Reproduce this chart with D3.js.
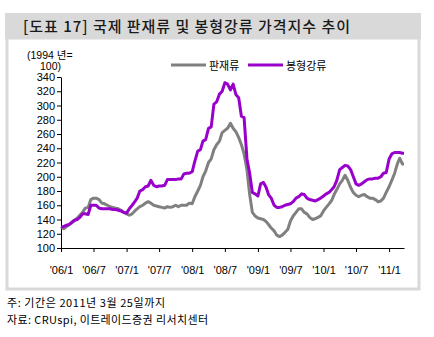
<!DOCTYPE html>
<html><head><meta charset="utf-8">
<script src="https://cdn.jsdelivr.net/npm/d3@7"></script>
<style>
html,body{margin:0;padding:0;background:#fff;}
svg{display:block;}
</style></head>
<body>
<svg id="chart" width="434" height="337"></svg>
<script>
// Half-month grid starting Jan 2006 (index 0 = 2006-01-01, 1 = 2006-01-16, ...)
const seriesNames = ["판재류", "봉형강류"];
const flatValues = [ // 판재류
130,127,130,133,135,138,142,146,150,156,157,168,170,170,168,163,162,160,158,157,156,155,153,150,
148,146,148,152,155,158,160,163,165,163,160,159,158,157,156,158,157,158,160,158,160,160,160,163,
162,172,180,188,200,208,220,225,238,245,250,262,265,268,275,268,263,255,245,232,210,175,150,145,
142,141,140,137,133,128,124,118,116,118,122,126,138,145,150,155,155,150,148,143,140,141,143,145,
152,157,162,167,175,182,190,195,202,195,185,178,174,172,174,175,172,170,170,168,165,166,170,178,
186,195,205,218,226,218,218];
const longValues = [ // 봉형강류
130,130,132,133,136,139,140,143,148,148,147,160,160,160,156,155,155,155,155,154,154,153,152,150,
149,155,160,165,170,180,182,186,187,195,188,186,187,187,188,196,196,196,196,197,197,204,205,205,
207,222,236,238,250,252,268,270,302,305,316,320,332,330,322,330,315,311,285,283,225,205,178,176,
173,190,192,185,175,170,160,157,157,158,160,161,162,165,170,172,176,175,170,168,167,166,168,170,
173,176,178,182,186,195,210,213,216,215,210,200,190,188,190,193,196,197,197,198,198,200,205,206,
225,232,234,234,234,233,233];
const tickLabels = ["'06/1","'06/7","'07/1","'07/7","'08/1","'08/7","'09/1","'09/7","'10/1","'10/7","'11/1"];
const yTicks = [100,120,140,160,180,200,220,240,260,280,300,320,340];

const startDate = new Date(2006,0,1), endDate = new Date(2011,2,25);
function gridDate(i){ const m = Math.floor(i/2); return new Date(2006, m, i%2 ? 16 : 1); }
const dates = flatValues.map((v,i)=> i===flatValues.length-1 ? endDate : gridDate(i));
const tickDates = tickLabels.map((t,i)=> new Date(2006, i*6, 1));

const svg = d3.select("#chart");
const FONT = "'Liberation Sans', Arial, 'Noto Sans CJK KR', sans-serif";
const KFONT = "'Noto Sans CJK KR', 'Liberation Sans', sans-serif";

// title band
svg.append("rect").attr("x",5).attr("y",13).attr("width",416).attr("height",26).attr("fill","#d9d9d9");
svg.append("text").attr("x",23).attr("y",32).attr("font-family",KFONT).attr("font-size",15)
  .attr("font-weight",500).attr("fill","#1a1a1a")
  .attr("textLength",327).attr("lengthAdjust","spacing")
  .text("[도표 17] 국제 판재류 및 봉형강류 가격지수 추이");
// chart frame
svg.append("rect").attr("x",7).attr("y",38).attr("width",412).attr("height",251)
  .attr("fill","#fff").attr("stroke","#d9d9d9").attr("stroke-width",3);

const x = d3.scaleTime().domain([startDate,endDate]).range([61,404]);
const y = d3.scaleLinear().domain([100,340]).range([248,77]);

const yAxis = svg.append("g").attr("transform","translate(61,0)")
  .call(d3.axisLeft(y).tickValues(yTicks).tickSize(4).tickSizeOuter(0).tickPadding(2));
const xAxis = svg.append("g").attr("transform","translate(0,248)")
  .call(d3.axisBottom(x).tickValues(tickDates).tickFormat((d,i)=>tickLabels[i]).tickSize(4).tickSizeOuter(0).tickPadding(14));
[yAxis,xAxis].forEach(g=>{
  g.selectAll("text").attr("font-family",FONT).attr("font-size",11).attr("fill","#000");
  g.selectAll("line,path").attr("stroke","#000");
});

const line = d3.line().x((d,i)=>x(dates[i])).y(d=>y(d));
svg.append("path").datum(flatValues).attr("d",line).attr("fill","none")
  .attr("stroke","#808080").attr("stroke-width",3).attr("stroke-linejoin","round");
svg.append("path").datum(longValues).attr("d",line).attr("fill","none")
  .attr("stroke","#9900cc").attr("stroke-width",3).attr("stroke-linejoin","round");

// unit label
svg.append("text").attr("x",27).attr("y",58.5).attr("font-family",FONT).attr("font-size",10.5).text("(1994 년=");
svg.append("text").attr("x",40).attr("y",70).attr("font-family",FONT).attr("font-size",10.5).text("100)");

// legend
const legend = [{x:171,color:"#808080"},{x:248,color:"#9900cc"}];
legend.forEach((l,i)=>{
  svg.append("line").attr("x1",l.x).attr("x2",l.x+35).attr("y1",65).attr("y2",65)
    .attr("stroke",l.color).attr("stroke-width",3);
  svg.append("text").attr("x",l.x+38).attr("y",70).attr("font-family",KFONT).attr("font-size",11)
    .attr("fill","#000").text(seriesNames[i]);
});

// footnotes
svg.append("text").attr("x",7).attr("y",307).attr("font-family",KFONT).attr("font-size",11)
  .attr("textLength",158).attr("lengthAdjust","spacing").text("주: 기간은 2011년 3월 25일까지");
svg.append("text").attr("x",7).attr("y",324).attr("font-family",KFONT).attr("font-size",11)
  .attr("textLength",201).attr("lengthAdjust","spacing").text("자료: CRUspi, 이트레이드증권 리서치센터");
</script>
</body></html>
